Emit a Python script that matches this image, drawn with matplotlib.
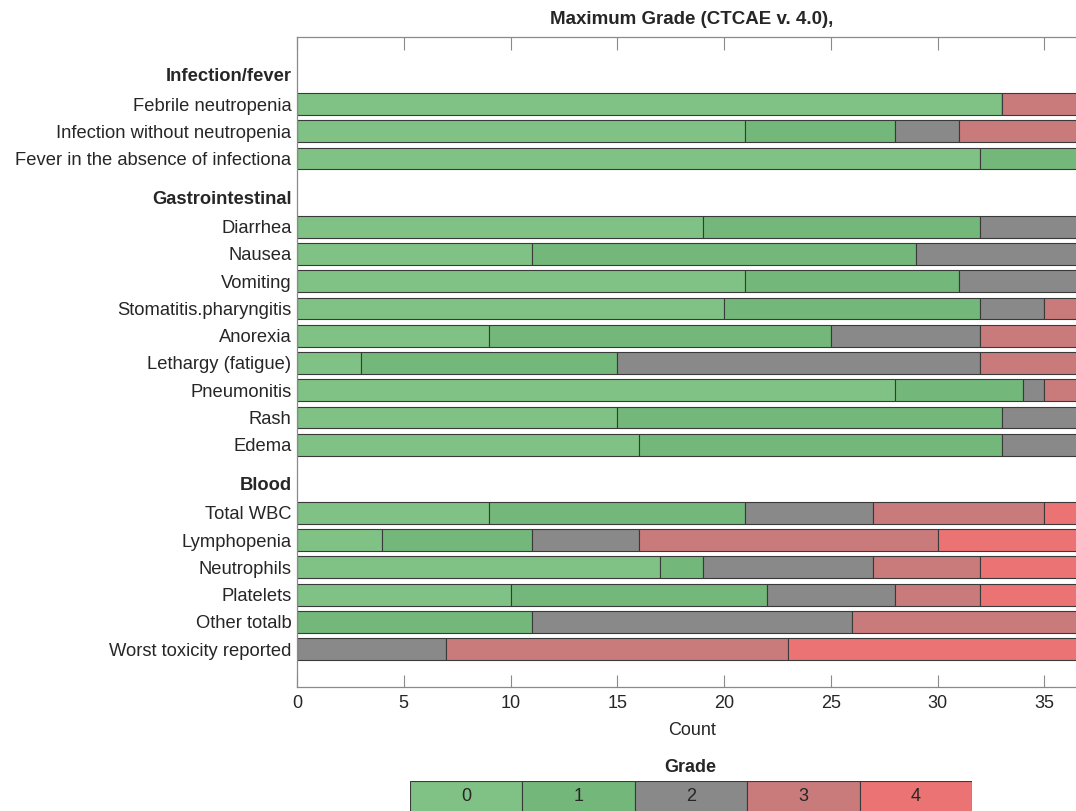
import numpy as np
import matplotlib
matplotlib.use("Agg")
import matplotlib.pyplot as plt
from matplotlib import font_manager

# ---- data (counts of patients per maximum grade) ----
GROUPS = ["Infection/fever", "Gastrointestinal", "Blood"]
ITEMS = [
    ["Febrile neutropenia", "Infection without neutropenia",
     "Fever in the absence of infectiona"],
    ["Diarrhea", "Nausea", "Vomiting", "Stomatitis.pharyngitis", "Anorexia",
     "Lethargy (fatigue)", "Pneumonitis", "Rash", "Edema"],
    ["Total WBC", "Lymphopenia", "Neutrophils", "Platelets", "Other totalb",
     "Worst toxicity reported"],
]
GRADES = ["0", "1", "2", "3", "4"]

grade0 = [33, 21, 32, 19, 11, 21, 20, 9, 3, 28, 15, 16, 9, 4, 17, 10, 0, 0]
grade1 = [0, 7, 5, 13, 18, 10, 12, 16, 12, 6, 18, 17, 12, 7, 2, 12, 11, 0]
grade2 = [0, 3, 0, 5, 8, 6, 3, 7, 17, 1, 4, 4, 6, 5, 8, 6, 15, 7]
grade3 = [4, 6, 0, 0, 0, 0, 2, 5, 5, 2, 0, 0, 8, 14, 5, 4, 11, 16]
grade4 = [0, 0, 0, 0, 0, 0, 0, 0, 0, 0, 0, 0, 2, 7, 5, 5, 0, 14]

COLORS = ["#80c285", "#74b77a", "#898989", "#c97b7b", "#ec7373"]
EDGE = "#3a3a3a"
AXCOL = "#8a8a8a"
TXT = "#262626"
REG = "Liberation Sans"
LABSIZE = 13.2

# row positions: header row, then items; 1.5 rows between groups
ypos, labels, heads = [], [], []
y = 0.0
for g, items in zip(GROUPS, ITEMS):
    heads.append((g, y))
    for it in items:
        y += 1
        ypos.append(y)
        labels.append(it)
    y += 1.5

fig = plt.figure(figsize=(10.76, 8.11), dpi=100)
ax = fig.add_axes([297 / 1076, 1 - 687 / 811, 790 / 1076, 650 / 811])

counts = np.array([grade0, grade1, grade2, grade3, grade4], dtype=float)
left = np.zeros(counts.shape[1])
for k in range(5):
    ax.barh(ypos, counts[k], left=left, height=0.8, color=COLORS[k],
            edgecolor=EDGE, linewidth=0.8, zorder=2)
    left += counts[k]

ax.set_xlim(0, 37)
ax.set_ylim(22.39, -1.46)
ax.set_xticks(range(0, 40, 5))
ax.set_yticks(ypos)
ax.set_yticklabels(labels, fontfamily=REG, fontsize=LABSIZE, color=TXT)
for lab in ax.get_xticklabels():
    lab.set_fontfamily(REG)
ax.tick_params(axis="x", direction="in", length=9, top=True, labelsize=13,
               colors=AXCOL, labelcolor=TXT, pad=6)
ax.tick_params(axis="y", direction="in", length=7, right=True,
               colors=AXCOL, labelcolor=TXT, pad=4)
for sp in ax.spines.values():
    sp.set_color(AXCOL)
    sp.set_linewidth(0.9)

# bold group headers, right-aligned with the tick labels
for g, yy in heads:
    ax.annotate(g, xy=(0, yy), xycoords=ax.get_yaxis_transform(),
                xytext=(-4, 0), textcoords="offset points",
                ha="right", va="center", fontfamily=REG, fontsize=LABSIZE,
                fontweight="bold", color=TXT)

ax.set_xlabel("Count", fontfamily=REG, fontsize=13, color=TXT, labelpad=7)
ax.set_title("Maximum Grade (CTCAE v. 4.0),", fontfamily=REG,
             fontsize=13.5, fontweight="bold", color=TXT, pad=9)

# grade legend as a strip of cells
lax = fig.add_axes([410 / 1076, 1 - 815 / 811, 562 / 1076, 34 / 811])
lax.bar(range(5), [1] * 5, width=1, color=COLORS, edgecolor=EDGE,
        linewidth=0.8, align="center")
for i, g in enumerate(GRADES):
    lax.text(i, 0.55, g, ha="center", va="center", fontfamily=REG,
             fontsize=13, color=TXT)
lax.set_xlim(-0.5, 4.5)
lax.set_ylim(0, 1)
lax.axis("off")
fig.text(690 / 1076, 1 - 767 / 811, "Grade", ha="center", va="center",
         fontfamily=REG, fontsize=13, fontweight="bold", color=TXT)

fig.savefig("out.png", dpi=100)
